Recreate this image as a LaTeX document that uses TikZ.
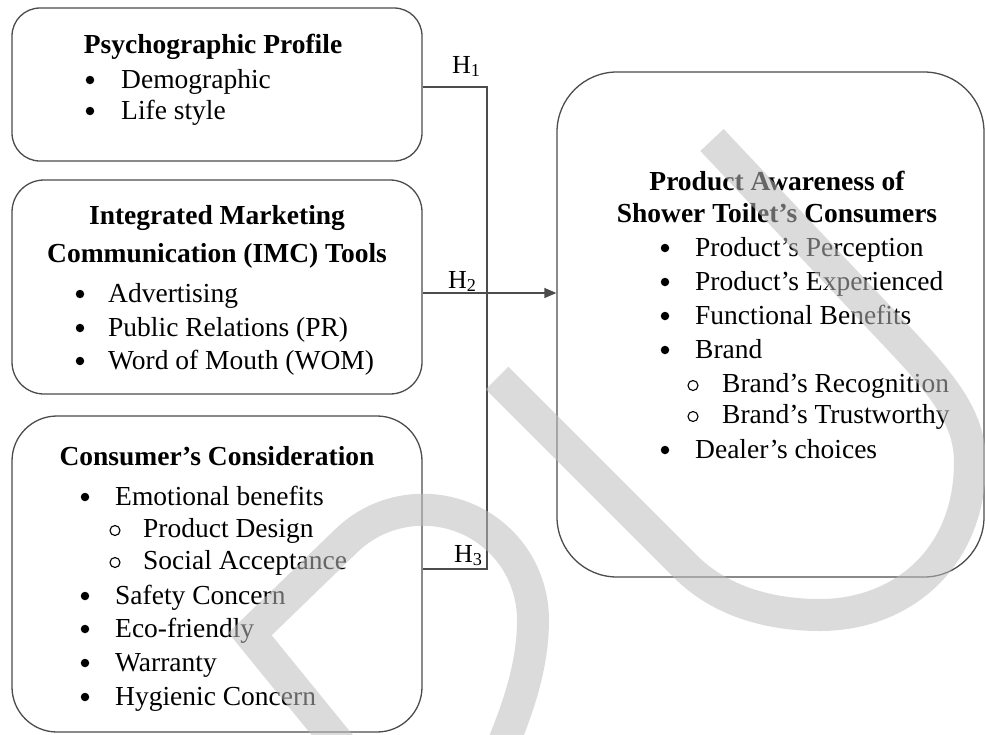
\documentclass[tikz,border=0pt]{standalone}
\usepackage{fontspec}
\setmainfont{Liberation Serif}
\usetikzlibrary{arrows.meta}
\definecolor{wm}{gray}{0.745}
\definecolor{edge}{gray}{0.3}
\begin{document}
\begin{tikzpicture}[x=1pt,y=-1pt,
  box/.style={draw=edge,line width=1.3pt,rectangle,inner sep=0pt},
  conn/.style={draw=edge,line width=1.3pt},
  txt/.style={anchor=base west,inner sep=0pt,font=\fontsize{27.5}{33}\selectfont},
  ttl/.style={anchor=base,inner sep=0pt,font=\bfseries\fontsize{27.5}{33}\selectfont},
  bul/.style={circle,fill=black,inner sep=0pt,minimum size=8.5pt,yshift=8pt},
  sbul/.style={circle,draw=black,line width=1.1pt,inner sep=0pt,minimum size=10pt,yshift=6.5pt},
  hlab/.style={anchor=base west,inner sep=0pt,font=\fontsize{26}{30}\selectfont},
  wmark/.style={draw=wm,draw opacity=0.54,line width=32pt,line join=miter,line cap=butt}]
\useasboundingbox (0,0) rectangle (985,734);
\fill[white] (0,0) rectangle (985,734);

% boxes
\node[box,minimum width=410pt,minimum height=153pt,rounded corners=28pt] (b1) at (217,84.5) {};
\node[box,minimum width=410pt,minimum height=214pt,rounded corners=32pt] (b2) at (217,287) {};
\node[box,minimum width=410pt,minimum height=316pt,rounded corners=45pt] (b3) at (217,574) {};
\node[box,minimum width=427pt,minimum height=505pt,rounded corners=60pt] (b4) at (770.5,324.5) {};

% box 1 text
\node[ttl] (t1) at (213,53) {Psychographic Profile};
\node[bul] (b1u1) at (90,88) {};
\node[txt] (b1x1) at (121,88) {Demographic};
\node[bul] (b1u2) at (90,119) {};
\node[txt] (b1x2) at (121,119) {Life style};

% box 2 text
\node[ttl] (t2a) at (217,224) {Integrated Marketing};
\node[ttl] (t2b) at (217,262) {Communication (IMC) Tools};
\node[bul] (b2u1) at (80,302) {};
\node[txt] (b2x1) at (108,302) {Advertising};
\node[bul] (b2u2) at (80,336) {};
\node[txt] (b2x2) at (108,336) {Public Relations (PR)};
\node[bul] (b2u3) at (80,369) {};
\node[txt] (b2x3) at (108,369) {Word of Mouth (WOM)};

% box 3 text
\node[ttl] (t3) at (217,465) {Consumer’s Consideration};
\node[bul] (b3u1) at (85,505) {};
\node[txt] (b3x1) at (115,505) {Emotional benefits};
\node[sbul] (b3s1) at (115,537) {};
\node[txt] (b3y1) at (143,537) {Product Design};
\node[sbul] (b3s2) at (115,569) {};
\node[txt] (b3y2) at (143,569) {Social Acceptance};
\node[bul] (b3u2) at (85,604) {};
\node[txt] (b3x2) at (115,604) {Safety Concern};
\node[bul] (b3u3) at (85,637) {};
\node[txt] (b3x3) at (115,637) {Eco-friendly};
\node[bul] (b3u4) at (85,671) {};
\node[txt] (b3x4) at (115,671) {Warranty};
\node[bul] (b3u5) at (85,705) {};
\node[txt] (b3x5) at (115,705) {Hygienic Concern};

% box 4 text
\node[ttl] (t4a) at (777,190) {Product Awareness of};
\node[ttl] (t4b) at (777,222) {Shower Toilet’s Consumers};
\node[bul] (b4u1) at (665,256) {};
\node[txt] (b4x1) at (695,256) {Product’s Perception};
\node[bul] (b4u2) at (665,290) {};
\node[txt] (b4x2) at (695,290) {Product’s Experienced};
\node[bul] (b4u3) at (665,324) {};
\node[txt] (b4x3) at (695,324) {Functional Benefits};
\node[bul] (b4u4) at (665,358) {};
\node[txt] (b4x4) at (695,358) {Brand};
\node[sbul] (b4s1) at (693,392) {};
\node[txt] (b4y1) at (722,392) {Brand’s Recognition};
\node[sbul] (b4s2) at (693,423) {};
\node[txt] (b4y2) at (722,423) {Brand’s Trustworthy};
\node[bul] (b4u5) at (665,458) {};
\node[txt] (b4x5) at (695,458) {Dealer’s choices};

% connectors
\coordinate (j1) at (487,87);
\coordinate (j2) at (487,293);
\coordinate (j3) at (487,569);
\draw[conn] (b1.east |- j1) -- (j1) -- (j3) -- (b3.east |- j3);
\draw[conn,-{Triangle[length=12pt,width=10pt]}] (b2.east |- j2) -- (b4.west |- j2);
\node[hlab] (h1) at (452,73) {H\textsubscript{1}};
\node[hlab] (h2) at (448,288) {H\textsubscript{2}};
\node[hlab] (h3) at (454,562) {H\textsubscript{3}};

% watermark
\begin{scope}
\clip (0,0) rectangle (985,734);
\draw[wmark] (346,752) -- (250,634) -- (345,542) .. controls (388,499) and (458,499) .. (501,542) .. controls (521.6,562.6) and (533,590.8) .. (533,620) .. controls (533,670) and (515,715) .. (500,752);
\draw[wmark] (712,140) -- (905,345) .. controls (945,388) and (970,420) .. (970,462) .. controls (970,560) and (900,615) .. (820,615) .. controls (760,615) and (715,596) .. (686,567) -- (497,378);
\end{scope}
\end{tikzpicture}
\end{document}
